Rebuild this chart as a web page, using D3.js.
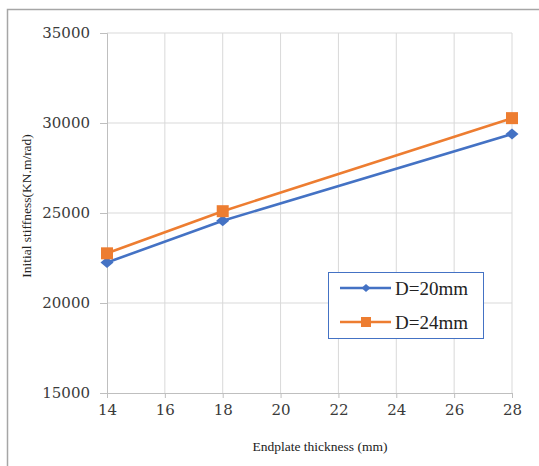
<!DOCTYPE html>
<html><head><meta charset="utf-8">
<script src="https://cdn.jsdelivr.net/npm/d3@7"></script>
<style>body{margin:0;background:#fff}svg{display:block}</style>
</head><body>
<script>
const thickness = [14, 18, 28];
const seriesNames = ["D=20mm", "D=24mm"];
const d20 = [22250, 24570, 29390];
const d24 = [22760, 25100, 30270];
const xTicks = [14, 16, 18, 20, 22, 24, 26, 28];
const yTicks = [15000, 20000, 25000, 30000, 35000];
const colors = ["#4472C4", "#ED7D31"];

const W = 539, H = 466;
const svg = d3.select("body").append("svg").attr("width", W).attr("height", H);
svg.append("rect").attr("x", 7.5).attr("y", 9.5).attr("width", 700).attr("height", 600)
  .attr("fill", "#fff").attr("stroke", "#a6a6a6").attr("stroke-width", 1.5);

const x = d3.scaleLinear().domain([14, 28]).range([107, 512]);
const y = d3.scaleLinear().domain([15000, 35000]).range([393, 33]);

const g = svg.append("g");
g.selectAll(".vg").data(xTicks.slice(1)).join("line")
  .attr("x1", d => x(d)).attr("x2", d => x(d)).attr("y1", y(15000)).attr("y2", y(35000))
  .attr("stroke", "#d9d9d9").attr("stroke-width", 1);
g.selectAll(".hg").data(yTicks.slice(1)).join("line")
  .attr("x1", x(14)).attr("x2", x(28)).attr("y1", d => y(d)).attr("y2", d => y(d))
  .attr("stroke", "#d9d9d9").attr("stroke-width", 1);

const xAxis = d3.axisBottom(x).tickValues(xTicks).tickSize(5).tickPadding(6).tickFormat(d3.format("d"));
const yAxis = d3.axisLeft(y).tickValues(yTicks).tickSize(7).tickPadding(10).tickFormat(d3.format("d"));
const gx = svg.append("g").attr("transform", `translate(0,${y(15000)})`).call(xAxis);
const gy = svg.append("g").attr("transform", `translate(${x(14)},0)`).call(yAxis);
[gx, gy].forEach(a => {
  a.select(".domain").attr("stroke", "#bfbfbf");
  a.selectAll(".tick line").attr("stroke", "#bfbfbf");
  a.selectAll("text").attr("font-family", "DejaVu Serif").attr("font-size", 15).attr("fill", "#3a3a3a");
});

const series = [d20, d24];
const line = d3.line().x((d, i) => x(thickness[i])).y(d => y(d));
series.forEach((s, k) => {
  svg.append("path").datum(s).attr("d", line).attr("fill", "none")
    .attr("stroke", colors[k]).attr("stroke-width", 2.6);
});
svg.selectAll(".dm").data(d20).join("path")
  .attr("d", "M0,-5.5L6.5,0L0,5.5L-6.5,0Z")
  .attr("transform", (d, i) => `translate(${x(thickness[i])},${y(d)})`)
  .attr("fill", colors[0]);
svg.selectAll(".sq").data(d24).join("rect")
  .attr("x", (d, i) => x(thickness[i]) - 6).attr("y", d => y(d) - 6)
  .attr("width", 12).attr("height", 12).attr("fill", colors[1]);

svg.append("text").attr("x", 320).attr("y", 451).attr("text-anchor", "middle")
  .attr("font-family", "Liberation Serif").attr("font-size", 13.5).attr("fill", "#222")
  .text("Endplate thickness (mm)");
svg.append("text").attr("transform", "translate(31,206) rotate(-90)").attr("text-anchor", "middle")
  .attr("font-family", "Liberation Serif").attr("font-size", 13.5).attr("fill", "#222")
  .text("Initial stiffness(KN.m/rad)");

const lg = svg.append("g");
lg.append("rect").attr("x", 328.5).attr("y", 272.5).attr("width", 155).attr("height", 66)
  .attr("fill", "#fff").attr("stroke", "#4472C4").attr("stroke-width", 1);
seriesNames.forEach((n, k) => {
  const yy = 288 + k * 34;
  lg.append("line").attr("x1", 340).attr("x2", 391).attr("y1", yy).attr("y2", yy)
    .attr("stroke", colors[k]).attr("stroke-width", 2.6);
  if (k === 0) {
    lg.append("path").attr("d", "M0,-4L4.5,0L0,4L-4.5,0Z")
      .attr("transform", `translate(366,${yy})`).attr("fill", colors[0]);
  } else {
    lg.append("rect").attr("x", 361).attr("y", yy - 5).attr("width", 10).attr("height", 10).attr("fill", colors[1]);
  }
  lg.append("text").attr("x", 395).attr("y", yy + 6.5).attr("font-family", "Liberation Serif")
    .attr("font-size", 19).attr("fill", "#222").text(n);
});
</script>
</body></html>
